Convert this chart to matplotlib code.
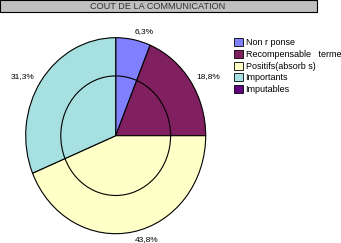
import matplotlib
matplotlib.use("Agg")
import matplotlib.pyplot as plt
from matplotlib.patches import Rectangle, Circle, Patch

plt.rcParams['font.family'] = ['Liberation Sans', 'DejaVu Sans']

# data (answers counted, share of 16)
categories = ["Non r ponse", "Recompensable   terme", "Positifs(absorb s)",
              "Importants", "Imputables"]
counts = [1, 3, 7, 5, 0]
pct_labels = ["6,3%", "18,8%", "43,8%", "31,3%"]
colors = ["#8080FF", "#802060", "#FFFFC8", "#A6E0E0", "#600080"]
title = "COUT DE LA COMMUNICATION"

W, H = 341, 243
fig = plt.figure(figsize=(W / 100, H / 100), dpi=100)

# title bar
fig.patches.append(Rectangle((0.0, 1 - 12.5 / H), 317 / W, 12 / H,
                             transform=fig.transFigure, facecolor="#C0C0C0",
                             edgecolor="black", linewidth=0.8))
fig.text(158 / W, 1 - 6.5 / H, title, ha="center", va="center",
         fontsize=6.6, color="#303030")

# pie area (slightly elliptic like the original)
cx, cy, rx, ry = 115.7, 135.7, 90, 98
ax = fig.add_axes(((cx - rx) / W, (H - cy - ry) / H, 2 * rx / W, 2 * ry / H))
shown = [c for c in counts if c > 0]
wedges, texts = ax.pie(shown, colors=colors[:len(shown)], startangle=90,
                       counterclock=False, labels=pct_labels,
                       labeldistance=1.08,
                       wedgeprops=dict(edgecolor="black", linewidth=0.8),
                       textprops=dict(fontsize=6))
ax.add_patch(Circle((0, 0), 0.61, fill=False, edgecolor="black", linewidth=0.8))
ax.set_aspect("auto")
ax.set_xlim(-1, 1)
ax.set_ylim(-1, 1)
ax.axis("off")

handles = [Patch(facecolor=c, edgecolor="black", linewidth=0.6) for c in colors]
fig.legend(handles, categories, loc="upper left",
           bbox_to_anchor=(228 / W, 1 - 32 / H), frameon=False,
           fontsize=6.5, handlelength=0.95, handleheight=1.0,
           handletextpad=0.3, labelspacing=0.28, borderpad=0.2)

fig.savefig("out.png", dpi=100)
